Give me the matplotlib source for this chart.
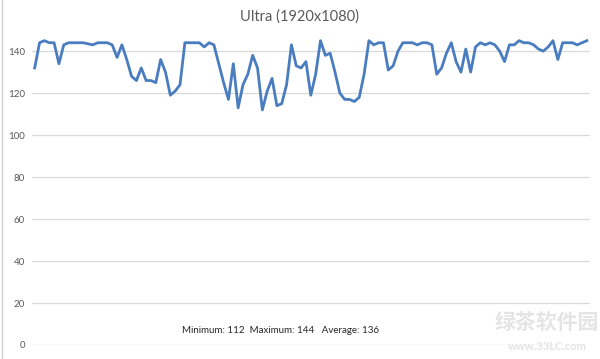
import numpy as np
import matplotlib.pyplot as plt

# frame rate samples (fps)
fps = [132, 144, 145, 144, 144, 134, 143, 144, 144, 144, 144, 143.5, 143, 144, 144, 144,
       143, 137, 143, 136, 128, 126, 132, 126, 126, 125, 136, 130, 119, 121, 124, 144,
       144, 144, 144, 142, 144, 143, 134, 125, 117, 134, 113, 124, 129, 138, 132, 112,
       121, 127, 114, 115, 124, 143,
       133, 132, 135, 119, 129, 145, 138, 139, 130, 120, 117, 117, 116, 118, 129, 145,
       143, 144, 144, 131, 133, 140, 144, 144, 144, 143, 144, 144, 143, 129, 132, 139,
       144, 135, 130, 141, 130, 142, 144, 143, 144, 143, 140, 135, 143, 143, 145, 144,
       144, 143, 141, 140, 142, 145, 136, 144, 144, 144, 143, 144, 145]
y_ticks = [0, 20, 40, 60, 80, 100, 120, 140]
title = "Ultra (1920x1080)"
stats = "Minimum: 112  Maximum: 144   Average: 136"

plt.rcParams['font.family'] = ['Lato', 'DejaVu Sans']

fig = plt.figure(figsize=(6, 3.59), dpi=100)
ax = fig.add_axes([0.053, 0.039, 0.93, 0.877])

x = np.arange(len(fps))
ax.plot(x, fps, color='#4a7dbf', linewidth=2.0, solid_joinstyle='round')

ax.set_ylim(0, 150)
ax.set_xlim(-0.6, len(fps) - 1 + 0.6)
ax.set_yticks(y_ticks)
ax.set_xticks([])
ax.grid(axis='y', color='#d9d9d9', linewidth=0.9)
ax.set_axisbelow(True)
for s in ax.spines.values():
    s.set_visible(False)
ax.tick_params(axis='y', length=0, pad=5, labelsize=7, labelcolor='#595959')

fig.text(0.5, 0.953, title, ha='center', va='center', fontsize=10.5, color='#595959')
fig.text(0.467, 0.078, stats, ha='center', va='center', fontsize=7, color='#262626')

# watermark
fig.text(0.912, 0.10, "绿茶软件园", ha='center', va='center', fontsize=15, color='#e4e4e4',
         family=['Noto Sans CJK SC', 'DejaVu Sans'], fontweight='bold')
fig.text(0.912, 0.035, "www.33LC.com", ha='center', va='center', fontsize=8, color='#e4e4e4',
         fontweight='bold')

# light frame line on the left edge
fig.add_artist(plt.Line2D([0.004, 0.004], [0, 1], color='#d0d0d0', linewidth=1))

fig.savefig('out.png', dpi=100)
